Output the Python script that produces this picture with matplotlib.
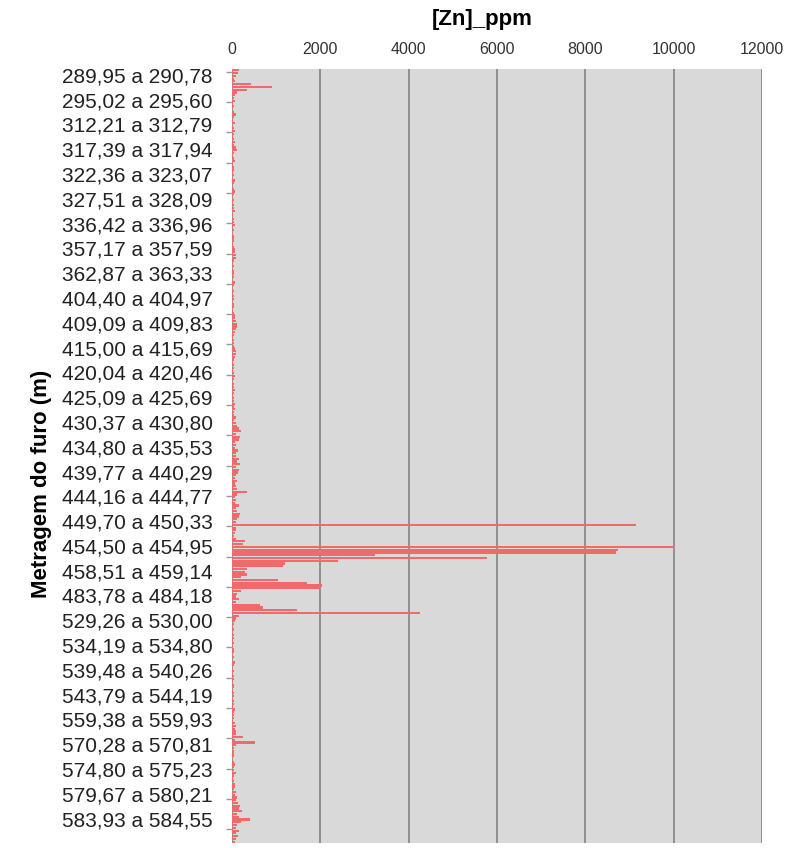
import numpy as np
import matplotlib
matplotlib.use("Agg")
import matplotlib.pyplot as plt
import matplotlib.transforms as mtransforms

plt.rcParams['font.family'] = ['Liberation Sans', 'DejaVu Sans']

# Zn assays (ppm), one value per sampled interval, top of hole first
zn_ppm = [
    150, 130, 90, 50, 60, 420, 900, 350, 120, 60,
    40, 70, 30, 55, 25, 45, 80, 35, 20, 60,
    30, 50, 75, 40, 25, 35, 60, 45, 90, 110,
    50, 30, 40, 65, 20, 35, 55, 30, 45, 25,
    60, 40, 30, 50, 70, 35, 25, 45, 30, 55,
    40, 65, 30, 20, 45, 35, 60, 30, 50, 25,
    35, 45, 55, 30, 40, 70, 60, 85, 100, 50,
    30, 40, 25, 55, 35, 45, 30, 60, 40, 25,
    45, 30, 50, 35, 20, 40, 55, 30, 45, 60,
    70, 90, 120, 110, 80, 60, 40, 30, 45, 35,
    50, 60, 90, 100, 70, 40, 30, 55, 35, 25,
    40, 60, 45, 30, 50, 35, 65, 40, 30, 55,
    45, 70, 35, 60, 40, 50, 80, 55, 90, 120,
    150, 200, 90, 180, 150, 70, 100, 60, 130, 90,
    80, 150, 120, 180, 100, 160, 130, 90, 70, 110,
    60, 90, 120, 340, 120, 70, 100, 60, 150, 80,
    110, 180, 160, 120, 90, 9150, 80, 100, 60, 40,
    80, 290, 260, 10000, 8750, 8700, 3240, 5770, 2400, 1200,
    1150, 340, 300, 350, 200, 1050, 1700, 2030, 2000, 200,
    120, 90, 150, 100, 630, 700, 1470, 4250, 150, 100,
    60, 40, 30, 55, 25, 45, 35, 20, 40, 30,
    50, 35, 25, 45, 30, 60, 40, 30, 50, 25,
    35, 45, 30, 55, 40, 25, 35, 50, 30, 45,
    40, 30, 60, 35, 50, 45, 30, 70, 90, 60,
    100, 80, 250, 60, 520, 90, 50, 40, 35, 55,
    30, 45, 60, 40, 35, 80, 50, 30, 45, 60,
    70, 55, 90, 60, 110, 80, 130, 180, 150, 220,
    120, 160, 400, 200, 120, 90, 150, 80, 130, 100,
    70,
]

# Interval labels shown on the axis (every 9th sample)
depth_labels = [
    "289,95 a 290,78", "295,02 a 295,60", "312,21 a 312,79", "317,39 a 317,94",
    "322,36 a 323,07", "327,51 a 328,09", "336,42 a 336,96", "357,17 a 357,59",
    "362,87 a 363,33", "404,40 a 404,97", "409,09 a 409,83", "415,00 a 415,69",
    "420,04 a 420,46", "425,09 a 425,69", "430,37 a 430,80", "434,80 a 435,53",
    "439,77 a 440,29", "444,16 a 444,77", "449,70 a 450,33", "454,50 a 454,95",
    "458,51 a 459,14", "483,78 a 484,18", "529,26 a 530,00", "534,19 a 534,80",
    "539,48 a 540,26", "543,79 a 544,19", "559,38 a 559,93", "570,28 a 570,81",
    "574,80 a 575,23", "579,67 a 580,21", "583,93 a 584,55",
]
label_step = 9
tick_step = 11
x_ticks = [0, 2000, 4000, 6000, 8000, 10000, 12000]

n = len(zn_ppm)
fig = plt.figure(figsize=(7.95, 8.48), dpi=100)
ax = fig.add_axes([232 / 795, 5 / 848, 530 / 795, 774 / 848])
ax.set_facecolor('#d9d9d9')

ax.barh(np.arange(n), zn_ppm, height=0.8, color='#f06a6a', zorder=3)

ax.set_xlim(x_ticks[0], x_ticks[-1])
ax.set_ylim(n - 0.5, -0.5)

ax.xaxis.tick_top()
ax.set_xticks(x_ticks)
ax.grid(axis='x', color='#8a8a8a', linewidth=1.3, zorder=1)
ax.tick_params(axis='x', length=0, pad=9, labelsize=11.5, labelcolor='#333333')

ax.set_yticks(np.arange(len(depth_labels)) * label_step, depth_labels)
ax.set_yticks(np.arange(0.5, n, tick_step), minor=True)
ax.tick_params(axis='y', which='major', length=0, pad=14, labelsize=15,
               labelcolor='#222222')
ax.tick_params(axis='y', which='minor', length=4, width=1, color='#9a9a9a',
               direction='out')

shift = mtransforms.ScaledTranslation(0, -4.5 / 100, fig.dpi_scale_trans)
for lbl in ax.get_yticklabels():
    lbl.set_transform(lbl.get_transform() + shift)

for side in ax.spines.values():
    side.set_visible(False)

fig.text(482 / 795, 1 - 20 / 848, '[Zn]_ppm', ha='center', va='center',
         fontsize=16, fontweight='bold')
fig.text(42 / 795, 1 - 484 / 848, 'Metragem do furo (m)', ha='center',
         va='center', rotation=90, fontsize=16, fontweight='bold')

fig.savefig('out.png', dpi=100)
